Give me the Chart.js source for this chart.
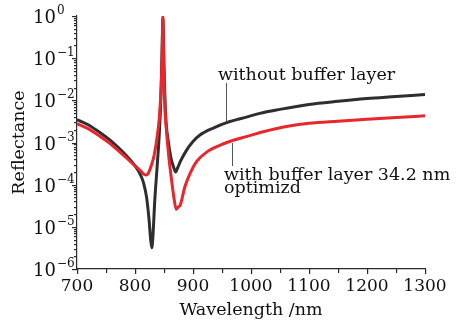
<!DOCTYPE html>
<html><head><meta charset="utf-8">
<script src="https://cdn.jsdelivr.net/npm/chart.js@4"></script>
<style>html,body{margin:0;padding:0;background:#fff}</style>
</head><body>
<canvas id="c" width="465" height="322"></canvas>
<script>
// ---- data ----
const wlWithout = [700,720,740,760,780,800,810,815,820,824,827,829,831,834,838,842,845,847,848,850,853,857,862,867,870,874,878,889,900,912,935,958,992,1015,1050,1100,1150,1200,1250,1300];
const rWithout  = [3.5e-3,2.6e-3,1.7e-3,1.05e-3,5.8e-4,2.8e-4,1.65e-4,1.07e-4,5.0e-5,1.6e-5,5.0e-6,3.2e-6,6.3e-6,4.0e-5,2.5e-4,1.7e-3,1.6e-2,0.25,0.9,0.063,4.0e-3,1.15e-3,4.3e-4,2.5e-4,2.0e-4,2.6e-4,3.5e-4,6.6e-4,1.05e-3,1.5e-3,2.2e-3,2.95e-3,4.0e-3,4.9e-3,6.1e-3,8.0e-3,9.5e-3,1.1e-2,1.23e-2,1.38e-2];
const wlWith = [700,720,740,760,780,800,810,816,820,824,828,833,838,842,845,847,848,849,851,854,858,863,867,871,874,878,886,895,906,924,947,967,992,1021,1061,1100,1150,1200,1250,1300];
const rWith  = [2.8e-3,2.1e-3,1.38e-3,8.7e-4,5.0e-4,2.8e-4,2.1e-4,1.74e-4,1.7e-4,2.0e-4,2.8e-4,5.0e-4,1.3e-3,4.0e-3,2.0e-2,0.16,1.0,0.16,1.0e-2,2.1e-3,5.0e-4,1.3e-4,5.0e-5,2.6e-5,2.9e-5,3.3e-5,8.9e-5,1.86e-4,3.5e-4,6.0e-4,8.7e-4,1.1e-3,1.38e-3,1.8e-3,2.4e-3,2.85e-3,3.2e-3,3.55e-3,3.9e-3,4.3e-3];
const xTickValues = [700,800,900,1000,1100,1200,1300];
const yExponents = [0,-1,-2,-3,-4,-5,-6];
const seriesNames = ['without buffer layer','with buffer layer 34.2 nm optimizd'];
const labelWithout = 'without buffer layer';
const labelWith = ['with buffer layer 34.2 nm','optimizd'];
const xTitle = 'Wavelength /nm';
const yTitle = 'Reflectance';

const FONT = '"DejaVu Serif", serif';
const AXC = '#2a2a2a';

const toXY = (xs, ys) => xs.map((v, i) => ({x: v, y: ys[i]}));

const axisDecor = {
  id: 'axisDecor',
  afterDraw(chart) {
    const ctx = chart.ctx;
    const a = chart.chartArea;
    const x = chart.scales.x, y = chart.scales.y;
    ctx.save();
    ctx.fillStyle = AXC;
    // y ticks (outward): majors at powers of ten, minors 2..9
    for (const e of yExponents) {
      for (let k = 1; k <= 9; k++) {
        const v = k * Math.pow(10, e);
        if (v > 1.0000001 || v < 0.9e-6) continue;
        const py = Math.round(y.getPixelForValue(v));
        const len = k === 1 ? 5 : 3;
        ctx.fillRect(Math.round(a.left) - len, py, len, 1.2);
      }
    }
    // x ticks (outward) every 50 nm
    for (let w = 700; w <= 1300; w += 50) {
      const px = Math.round(x.getPixelForValue(w));
      const len = w % 100 === 0 ? 5 : 4;
      ctx.fillRect(px, Math.round(a.bottom), 1.2, len);
    }
    // y labels 10^n
    ctx.fillStyle = '#111';
    ctx.textBaseline = 'alphabetic';
    for (const e of yExponents) {
      const py = y.getPixelForValue(Math.pow(10, e));
      ctx.font = '18px ' + FONT;
      ctx.textAlign = 'right';
      ctx.fillText('10', 56, py + 7);
      ctx.font = '12px ' + FONT;
      ctx.textAlign = 'left';
      const ex = e === 0 ? '0' : '\u2212' + (-e);
      ctx.fillText(ex, 57, py - 2);
    }
    // annotations
    ctx.font = '17.5px ' + FONT;
    ctx.textAlign = 'left';
    ctx.fillText(labelWithout, 218, 80);
    ctx.fillText(labelWith[0], 224, 180);
    ctx.fillText(labelWith[1], 224, 193);
    ctx.fillStyle = '#555';
    ctx.fillRect(226, 83, 1, 39);
    ctx.fillRect(232, 143, 1, 23);
    ctx.restore();
  }
};

new Chart(document.getElementById('c'), {
  type: 'line',
  data: {
    datasets: [
      {label: seriesNames[1], data: toXY(wlWith, rWith), borderColor: '#e8262b', borderWidth: 3, pointRadius: 0, cubicInterpolationMode: 'monotone', fill: false},
      {label: seriesNames[0], data: toXY(wlWithout, rWithout), borderColor: '#2e2e2e', borderWidth: 3, pointRadius: 0, cubicInterpolationMode: 'monotone', fill: false}
    ]
  },
  options: {
    responsive: false,
    animation: false,
    layout: {padding: {left: 0, right: 40, top: 16, bottom: 0}},
    plugins: {legend: {display: false}, tooltip: {enabled: false}},
    scales: {
      x: {
        type: 'linear', min: 700, max: 1300,
        grid: {display: false},
        border: {display: true, color: AXC, width: 1.2},
        ticks: {stepSize: 50, autoSkip: false, maxRotation: 0, padding: -1, color: '#111',
          font: {family: FONT, size: 17},
          callback: v => xTickValues.includes(v) ? String(v) : ''},
        title: {display: true, text: xTitle, color: '#111', font: {family: FONT, size: 17.5}, padding: {top: 2, bottom: 1}},
        afterFit: s => { s.height = 53; }
      },
      y: {
        type: 'logarithmic', min: 1e-6, max: 1,
        grid: {display: false},
        border: {display: true, color: AXC, width: 1.2},
        ticks: {display: false},
        title: {display: true, text: yTitle, color: '#111', font: {family: FONT, size: 17.5}, padding: {top: 9, bottom: 0}},
        afterFit: s => { s.width = 77; }
      }
    }
  },
  plugins: [axisDecor]
});
</script>
</body></html>
